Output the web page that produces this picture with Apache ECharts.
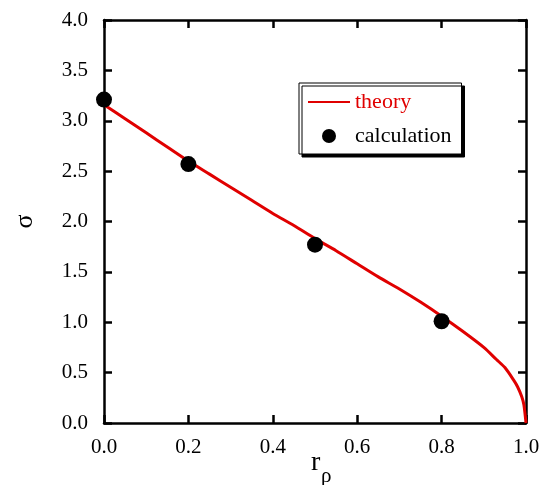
<!DOCTYPE html>
<html>
<head>
<meta charset="utf-8">
<script src="https://cdn.jsdelivr.net/npm/echarts@6/dist/echarts.min.js"></script>
<style>
html,body{margin:0;padding:0;background:#fff;}
#chart{width:551px;height:485px;}
</style>
</head>
<body>
<div id="chart"></div>
<script>
// Theory curve
const theoryX = [0, 0.05, 0.1, 0.15, 0.2, 0.25, 0.3, 0.35, 0.4, 0.45, 0.5, 0.55, 0.6, 0.65, 0.7, 0.75, 0.8, 0.85, 0.9, 0.93, 0.95, 0.97, 0.98, 0.99, 0.995, 1.0];
const theoryY = [3.16, 3.02, 2.88, 2.74, 2.60, 2.47, 2.34, 2.21, 2.08, 1.96, 1.83, 1.71, 1.58, 1.45, 1.33, 1.20, 1.06, 0.91, 0.75, 0.63, 0.55, 0.43, 0.36, 0.26, 0.18, 0.0];
// Calculation points
const calcX = [0, 0.2, 0.5, 0.8];
const calcY = [3.21, 2.57, 1.77, 1.01];
// Axis labels
const xTicks = ['0.0', '0.2', '0.4', '0.6', '0.8', '1.0'];
const yTicks = ['0.0', '0.5', '1.0', '1.5', '2.0', '2.5', '3.0', '3.5', '4.0'];
const seriesNames = ['theory', 'calculation'];
const xName = 'r';
const xNameSub = 'ρ';
const yName = 'σ';

const FONT = 'Liberation Serif';
const RED = '#e00000';
const axisLine = {show: true, onZero: false, lineStyle: {color: '#000', width: 2.5}};
const axisTick = {show: true, inside: true, length: 8, lineStyle: {color: '#000', width: 2.5}};

const chart = echarts.init(document.getElementById('chart'), null, {renderer: 'canvas'});
chart.setOption({
  animation: false,
  backgroundColor: '#fff',
  grid: {left: 104, top: 20, right: 25, bottom: 62, containLabel: false, outerBoundsMode: 'none'},
  graphic: [
    {type: 'text', x: 311, y: 449, silent: true,
     style: {text: xName, fontFamily: FONT, fontSize: 28, fill: '#000', verticalAlign: 'top'}},
    {type: 'text', x: 321, y: 466, silent: true,
     style: {text: xNameSub, fontFamily: FONT, fontSize: 21, fill: '#000', verticalAlign: 'top'}}
  ],
  legend: {
    orient: 'vertical',
    left: 299, top: 83,
    padding: [8, 10, 7, 8],
    itemGap: 12,
    itemWidth: 42,
    itemHeight: 14,
    backgroundColor: '#fff',
    borderColor: '#000',
    borderWidth: 1,
    shadowColor: '#000',
    shadowBlur: 0,
    shadowOffsetX: 3,
    shadowOffsetY: 3,
    textStyle: {fontFamily: FONT, fontSize: 22, color: '#000'},
    data: [
      {name: seriesNames[0], textStyle: {color: RED}, itemStyle: {opacity: 0}},
      {name: seriesNames[1], icon: 'circle', itemStyle: {color: '#000', opacity: 1}}
    ]
  },
  xAxis: [{
    type: 'value', min: 0, max: 1, interval: 0.2,
    axisLine: axisLine, axisTick: axisTick, splitLine: {show: false},
    axisLabel: {margin: 14, fontFamily: FONT, fontSize: 21, color: '#000',
      formatter: (v) => xTicks[Math.round(v / 0.2)]}
  }, {
    type: 'value', min: 0, max: 1, interval: 0.2, position: 'top',
    axisLine: axisLine, axisTick: axisTick, splitLine: {show: false},
    axisLabel: {show: false}
  }],
  yAxis: [{
    type: 'value', min: 0, max: 4, interval: 0.5,
    name: yName, nameLocation: 'middle', nameGap: 66, nameRotate: 90, nameMoveOverlap: false,
    nameTextStyle: {fontFamily: FONT, fontSize: 26, color: '#000'},
    axisLine: axisLine, axisTick: axisTick, splitLine: {show: false},
    axisLabel: {margin: 16, fontFamily: FONT, fontSize: 21, color: '#000',
      formatter: (v) => yTicks[Math.round(v / 0.5)]}
  }, {
    type: 'value', min: 0, max: 4, interval: 0.5, position: 'right',
    axisLine: axisLine, axisTick: axisTick, splitLine: {show: false},
    axisLabel: {show: false}
  }],
  series: [{
    name: seriesNames[0],
    type: 'line',
    data: theoryX.map((x, i) => [x, theoryY[i]]),
    smooth: 0.25,
    symbol: 'none',
    lineStyle: {color: RED, width: 3},
    itemStyle: {color: RED},
    z: 2
  }, {
    name: seriesNames[1],
    type: 'scatter',
    data: calcX.map((x, i) => [x, calcY[i]]),
    symbol: 'circle',
    symbolSize: 16,
    itemStyle: {color: '#000', opacity: 1},
    z: 3
  }]
});
</script>
</body>
</html>
